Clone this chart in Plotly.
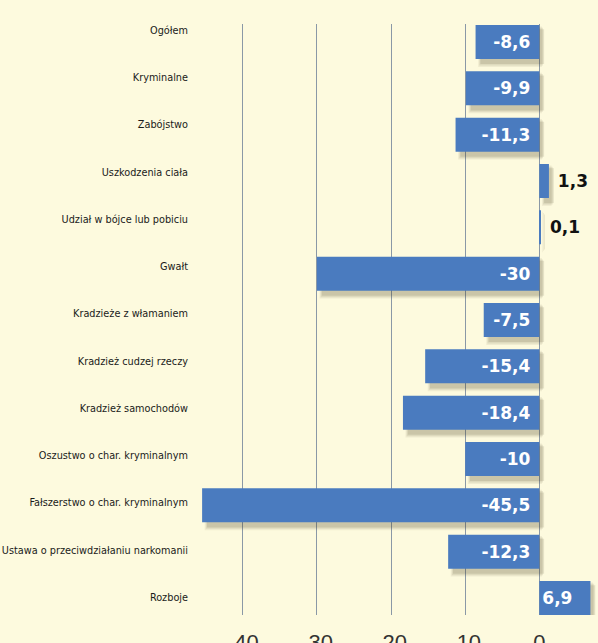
import plotly.graph_objects as go

categories = [
    "Ogółem",
    "Kryminalne",
    "Zabójstwo",
    "Uszkodzenia ciała",
    "Udział w bójce lub pobiciu",
    "Gwałt",
    "Kradzieże z włamaniem",
    "Kradzież cudzej rzeczy",
    "Kradzież samochodów",
    "Oszustwo o char. kryminalnym",
    "Fałszerstwo o char. kryminalnym",
    "Ustawa o przeciwdziałaniu narkomanii",
    "Rozboje",
]
values = [-8.6, -9.9, -11.3, 1.3, 0.1, -30, -7.5, -15.4, -18.4, -10, -45.5, -12.3, 6.9]
x_tick_vals = [-40, -30, -20, -10, 0]
x_tick_text = ["-40", "-30", "-20", "-10", "0"]

BG = "#fdfade"
BAR = "#4a7bbf"
GRID = "#8a98a6"
NB = "\u00a0"

def fmt(v):
    return f"{v:g}".replace(".", ",")

inside = [v < 0 or v >= 5 for v in values]
labels = [fmt(v) + NB if ins else NB + fmt(v) for v, ins in zip(values, inside)]
positions = ["inside" if ins else "outside" for ins in inside]

fig = go.Figure()

# soft drop shadow layers
BW = 0.734
for k, (dx, grow, op) in enumerate([(0.35, 0.14, 0.07), (0.5, 0.08, 0.10), (0.65, 0.02, 0.13)]):
    fig.add_trace(go.Bar(
        y=categories, x=values, base=[dx] * len(values),
        orientation="h",
        width=BW + grow,
        offset=-(BW + grow) / 2 + 0.1,
        marker=dict(color=f"rgba(70,60,30,{op})", line=dict(width=0)),
        hoverinfo="skip", showlegend=False,
    ))

fig.add_trace(go.Bar(
    y=categories, x=values, orientation="h",
    width=BW,
    marker=dict(color=BAR, line=dict(width=0)),
    text=labels, textposition=positions,
    insidetextanchor="start",
    insidetextfont=dict(family="DejaVu Sans", size=17, color="white", weight="bold"),
    outsidetextfont=dict(family="DejaVu Sans", size=17, color="#111111", weight="bold"),
    cliponaxis=False,
    showlegend=False,
))

# invisible trace to carry category labels on a second y axis
fig.add_trace(go.Scatter(
    x=[0] * len(categories), y=list(range(len(categories))), yaxis="y2",
    mode="markers", marker=dict(opacity=0), hoverinfo="skip", showlegend=False,
))

fig.update_layout(
    width=598, height=643,
    margin=dict(l=195, r=0, t=24, b=28, pad=0),
    paper_bgcolor=BG, plot_bgcolor=BG,
    barmode="overlay",
    template="none",
    xaxis=dict(
        range=[-46.46, 7.92], tickvals=x_tick_vals, ticktext=x_tick_text,
        showgrid=True, gridcolor=GRID, gridwidth=1,
        zeroline=True, zerolinecolor=GRID, zerolinewidth=1,
        showline=False, ticks="",
        tickfont=dict(family="Liberation Sans, Arial, sans-serif", size=22, color="#333333"),
        ticklabelstandoff=12, automargin=False, fixedrange=True,
    ),
    yaxis=dict(
        type="category", categoryorder="array", categoryarray=categories,
        range=[12.367, -0.3885], showticklabels=False, showgrid=False,
        zeroline=False, showline=False, ticks="", automargin=False,
    ),
    yaxis2=dict(
        overlaying="y", side="left", range=[12.381, -0.127],
        tickvals=list(range(len(categories))), ticktext=categories,
        showgrid=False, zeroline=False, showline=False, ticks="",
        tickfont=dict(family="DejaVu Sans Condensed", size=10.8, color="#1a1a1a"),
        ticklabelstandoff=6, automargin=False,
    ),
)

fig.write_html("out.html")
